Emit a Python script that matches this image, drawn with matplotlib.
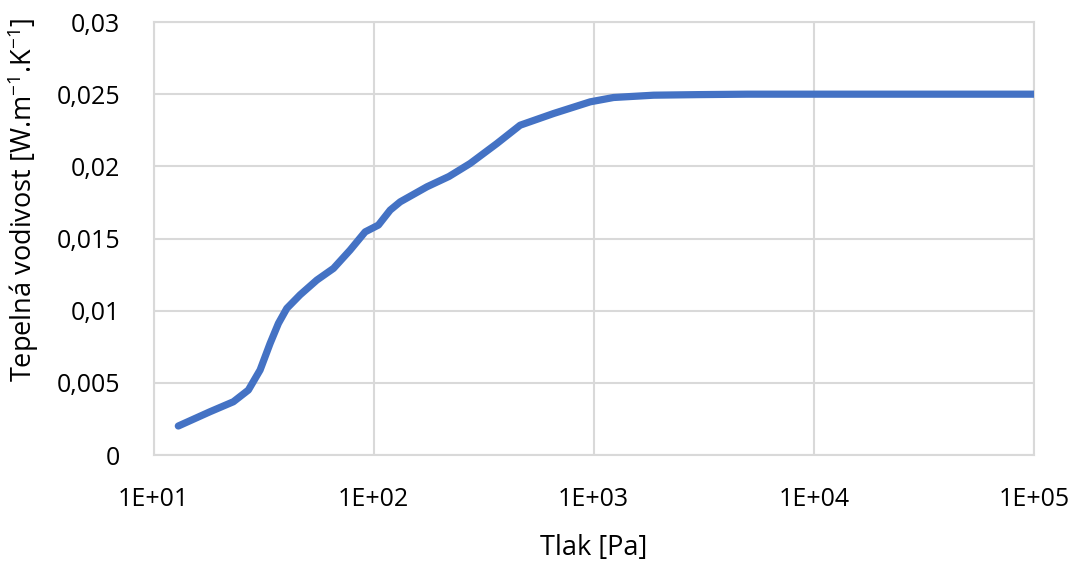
import numpy as np
import matplotlib.pyplot as plt
from matplotlib.ticker import FuncFormatter, FixedLocator

# pressure [Pa] and thermal conductivity [W/m/K]
pressure = [12.96, 18.06, 23.05, 26.97, 30.49, 33.85, 36.93, 40.32, 46.34,
            55.2, 65.7, 78.2, 91.5, 105.1, 118.9, 132, 174.5, 220, 274.5, 363,
            463, 656.6, 964, 1230, 1871, 3000, 5000, 10000, 100000]
conductivity = [0.00201, 0.0030, 0.00369, 0.0045, 0.00589, 0.00773, 0.00912,
                0.01016, 0.0111, 0.01212, 0.01293, 0.0142, 0.01546, 0.01593,
                0.01697, 0.01754, 0.01858, 0.0193, 0.0202, 0.02158, 0.02285,
                0.02366, 0.02447, 0.02477, 0.02493, 0.02497, 0.0250, 0.0250,
                0.0250]

x_ticks = [1e1, 1e2, 1e3, 1e4, 1e5]
y_ticks = [0, 0.005, 0.01, 0.015, 0.02, 0.025, 0.03]

plt.rcParams['font.family'] = ['Open Sans', 'DejaVu Sans']
plt.rcParams['mathtext.fontset'] = 'custom'
plt.rcParams['mathtext.rm'] = 'Open Sans'
plt.rcParams['mathtext.it'] = 'Open Sans'
plt.rcParams['mathtext.default'] = 'regular'

fig = plt.figure(figsize=(10.82, 5.63), dpi=100)
ax = fig.add_axes([0.1419, 0.1918, 0.8137, 0.7691])

ax.plot(pressure, conductivity, color='#4472C4', linewidth=5.2,
        solid_capstyle='round', solid_joinstyle='round', zorder=3)

ax.set_xscale('log')
ax.set_xlim(1e1, 1e5)
ax.set_ylim(0, 0.03)
ax.xaxis.set_major_locator(FixedLocator(x_ticks))
ax.xaxis.set_minor_locator(FixedLocator([]))
ax.yaxis.set_major_locator(FixedLocator(y_ticks))
ax.xaxis.set_major_formatter(FuncFormatter(lambda v, p: '1E+%02d' % round(np.log10(v))))
ax.yaxis.set_major_formatter(FuncFormatter(
    lambda v, p: '0' if v == 0 else ('%g' % v).replace('.', ',')))

ax.grid(True, color='#D9D9D9', linewidth=1.5, zorder=0)
for s in ax.spines.values():
    s.set_color('#D9D9D9')
    s.set_linewidth(1.5)
ax.tick_params(length=0, labelsize=18, colors='black')
ax.tick_params(axis='x', pad=23)
ax.tick_params(axis='y', pad=24)

ax.set_xlabel('Tlak [Pa]', fontsize=19.5, labelpad=16)
ax.set_ylabel('Tepelná vodivost [W.m$^{-1}$.K$^{-1}$]', fontsize=19.5)
ax.yaxis.set_label_coords(-0.128, 0.589)

plt.savefig('out.png', dpi=100)
